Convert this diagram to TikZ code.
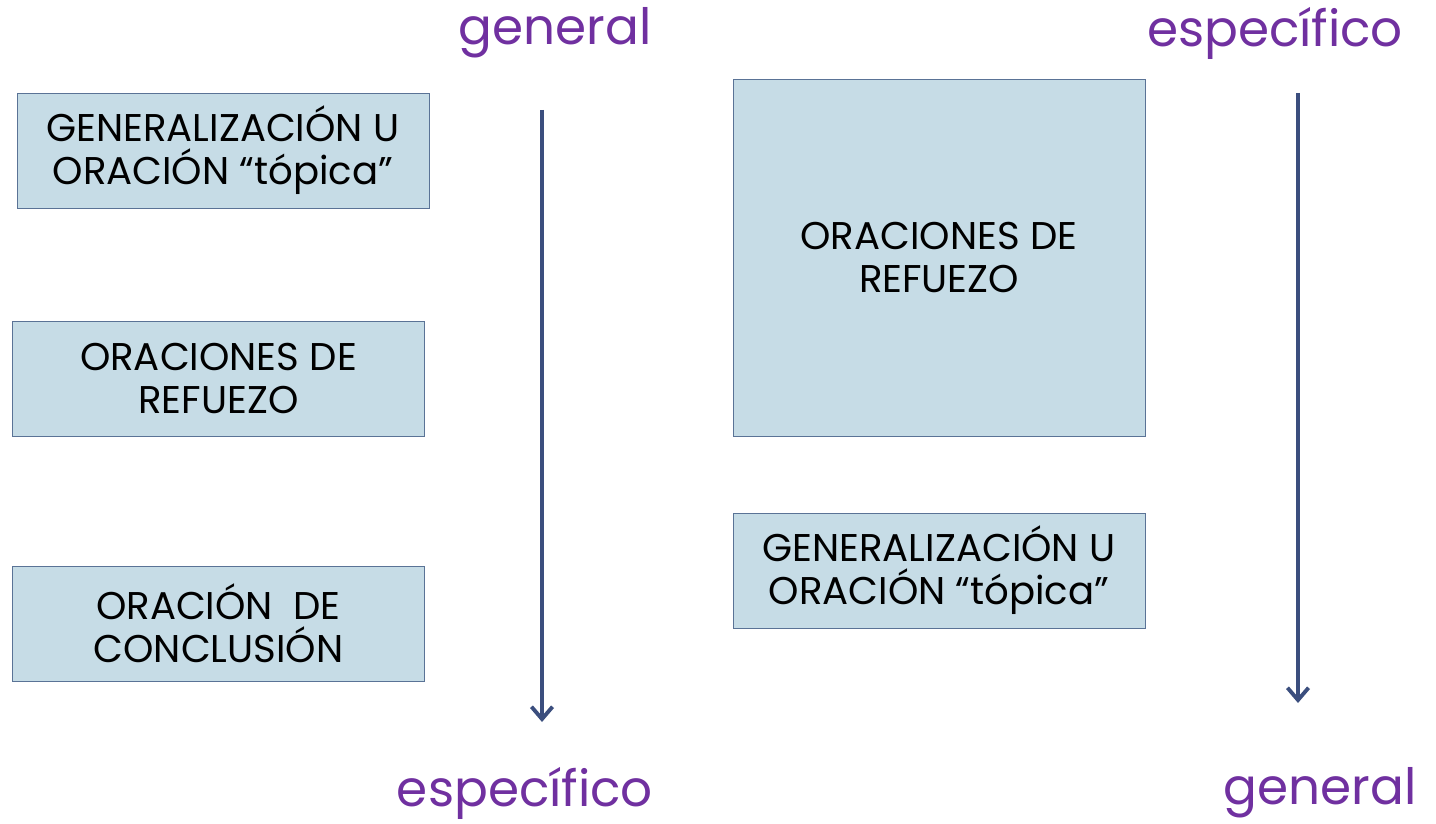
\documentclass[tikz,border=0pt]{standalone}
\usepackage{fontspec}
\setmainfont{Poppins}
\definecolor{boxfill}{HTML}{C6DCE6}
\definecolor{boxline}{HTML}{5A7396}
\definecolor{arrowblue}{HTML}{3B4E7E}
\definecolor{labelpurple}{HTML}{7030A0}
\tikzset{
	parabox/.style = {draw = boxline, fill = boxfill, align = center, inner sep = 0pt,
		minimum width = 412*0.02cm, font = \fontsize{22}{24.4}\selectfont},
	flowarrow/.style = {draw = arrowblue, line width = 2.2pt, -{Straight Barb[length=7pt, width=12pt]}},
	levellabel/.style = {text = labelpurple, font = \fontsize{28.5}{30}\selectfont, inner sep = 0pt}
}
\usetikzlibrary{arrows.meta}
\begin{document}
\begin{tikzpicture}[x = 0.02cm, y = -0.02cm]
	\useasboundingbox (0, 0) rectangle (1436, 824);
	% left column: general to specific
	\node[parabox, minimum height = 115*0.02cm] (topicL) at (223, 150.5) {GENERALIZACIÓN U\\ORACIÓN “tópica”};
	\node[parabox, minimum height = 115*0.02cm] (supportL) at (218.5, 378.5) {ORACIONES DE\\REFUEZO};
	\node[parabox, minimum height = 115*0.02cm] (conclusion) at (218.5, 623.5) {ORACIÓN~ DE\\CONCLUSIÓN};
	% right column: specific to general
	\node[parabox, minimum height = 357*0.02cm] (supportR) at (939, 257.5) {ORACIONES DE\\REFUEZO};
	\node[parabox, minimum height = 115*0.02cm] (topicR) at (939, 570.5) {GENERALIZACIÓN U\\ORACIÓN “tópica”};
	% labels
	\node[levellabel] (genTop) at (555, 33) {general};
	\node[levellabel] (espTop) at (1275, 33) {específico};
	\node[levellabel] (espBot) at (525, 793) {específico};
	\node[levellabel] (genBot) at (1320, 793) {general};
	% arrows
	\coordinate (leftStart) at (542, 110);
	\coordinate (leftEnd) at (542, 722);
	\coordinate (rightStart) at (1298, 93);
	\coordinate (rightEnd) at (1298, 703);
	\draw[flowarrow] (leftStart) -- (leftEnd);
	\draw[flowarrow] (rightStart) -- (rightEnd);
\end{tikzpicture}
\end{document}
